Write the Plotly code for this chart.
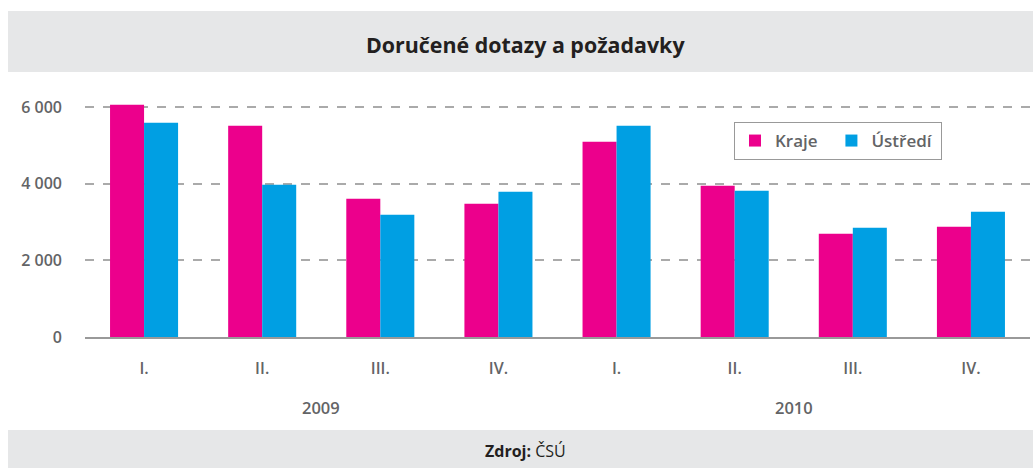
import plotly.graph_objects as go

categories = ["2009 I.", "2009 II.", "2009 III.", "2009 IV.",
              "2010 I.", "2010 II.", "2010 III.", "2010 IV."]
quarter_labels = ["I.", "II.", "III.", "IV.", "I.", "II.", "III.", "IV."]
years = ["2009", "2010"]
series_names = ["Kraje", "Ústředí"]
kraje = [6065, 5516, 3608, 3477, 5098, 3948, 2693, 2876]
ustredi = [5595, 3974, 3190, 3791, 5516, 3817, 2850, 3268]
y_ticks = [0, 2000, 4000, 6000]
y_tick_labels = ["0", "2 000", "4 000", "6 000"]

PINK = "#EC008C"
BLUE = "#009FE3"
TXT = "#636466"
FONT = "Open Sans"
NB = "\u00a0"

fig = go.Figure()
fig.add_trace(go.Bar(x=categories, y=kraje, name=series_names[0] + NB * 2,
                     marker=dict(color=PINK, line=dict(width=0))))
fig.add_trace(go.Bar(x=categories, y=ustredi, name=series_names[1] + NB,
                     marker=dict(color=BLUE, line=dict(width=0))))

W, H = 1033, 468
L, R, T, B = 85, 3, 90, 131
pw = W - L - R
ph = H - T - B

def px(x):
    return (x - L) / pw

def py(y):
    return (H - B - y) / ph

shapes = [
    dict(type="rect", xref="paper", yref="paper", x0=px(8), x1=px(1033), y0=py(72), y1=py(11),
         fillcolor="#E6E7E8", line=dict(width=0), layer="below"),
    dict(type="rect", xref="paper", yref="paper", x0=px(8), x1=px(1033), y0=py(468), y1=py(430),
         fillcolor="#E6E7E8", line=dict(width=0), layer="below"),
]

annotations = [
    dict(text="Doručené dotazy a požadavky", xref="paper", yref="paper", x=px(525), y=py(44),
         showarrow=False, font=dict(family=FONT, size=21.4, color="#231F20", weight="bold"),
         xanchor="center", yanchor="middle"),
    dict(text="<b>Zdroj:</b> ČSÚ", xref="paper", yref="paper", x=px(525), y=py(451),
         showarrow=False, font=dict(family=FONT, size=16, color="#231F20"), xanchor="center", yanchor="middle"),
    dict(text=years[0], xref="x", yref="paper", x=1.5, y=py(407), showarrow=False,
         font=dict(family=FONT, size=16.5, color=TXT, weight=600), xanchor="center", yanchor="middle"),
    dict(text=years[1], xref="x", yref="paper", x=5.5, y=py(407), showarrow=False,
         font=dict(family=FONT, size=16.5, color=TXT, weight=600), xanchor="center", yanchor="middle"),
]

fig.update_layout(
    width=W, height=H,
    margin=dict(l=L, r=R, t=T, b=B, pad=0),
    paper_bgcolor="white", plot_bgcolor="white",
    barmode="group", bargap=0.424, bargroupgap=0,
    font=dict(family=FONT, color=TXT),
    showlegend=True,
    legend=dict(orientation="h", x=px(734), y=py(122), xanchor="left", yanchor="top",
                bordercolor="#999999", borderwidth=1, bgcolor="white",
                font=dict(family=FONT, size=17, color=TXT, weight=600), itemwidth=30,
                tracegroupgap=0),
    shapes=shapes,
    annotations=annotations,
)
fig.update_xaxes(
    type="category", tickvals=categories, ticktext=quarter_labels,
    showgrid=False, showline=True, linecolor="#999999", linewidth=2,
    ticks="", tickfont=dict(family=FONT, size=16, color=TXT, weight=600), ticklabelstandoff=16,
    range=[-0.5, 7.5], zeroline=False,
)
fig.update_yaxes(
    range=[0, 6450], tickvals=y_ticks, ticktext=y_tick_labels,
    showgrid=True, gridcolor="#AAAAAA", griddash="dash", gridwidth=1.5,
    zeroline=False, showline=False, ticks="",
    tickfont=dict(family=FONT, size=16, color=TXT, weight=600), ticklabelstandoff=22,
)

fig.write_html("out.html", config={"displayModeBar": False},
               post_script="document.body.style.margin='0';")
